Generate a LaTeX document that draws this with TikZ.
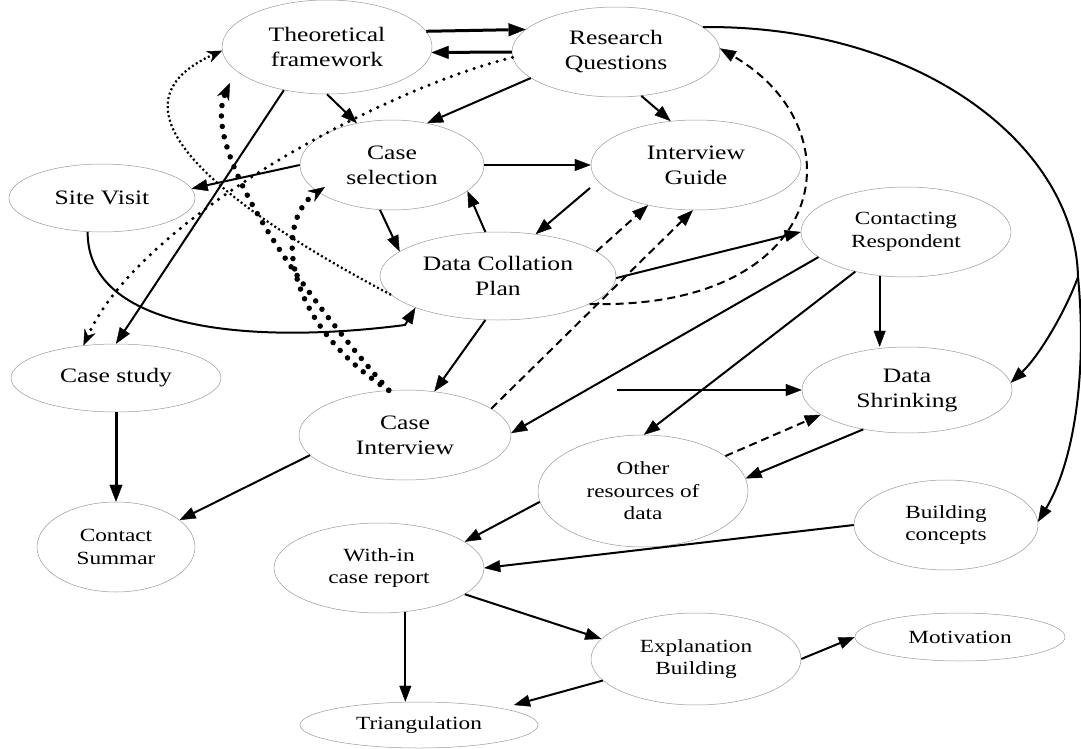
\documentclass[tikz,border=0pt]{standalone}
\usepackage{fontspec}
\setmainfont{Liberation Serif}[FakeStretch=1.25]
\usetikzlibrary{shapes.geometric,arrows.meta,calc}
\tikzset{
 bub/.style={ellipse, draw=gray!80, line width=0.5pt, inner sep=0pt, align=center, font=\fontsize{20.5}{25}\selectfont},
 sbub/.style={bub, font=\fontsize{18.6}{22.5}\selectfont},
 plain/.style={line width=2pt},
 con/.style={line width=2pt, -{Triangle[length=16pt,width=12pt,line width=0.4pt]}},
 thickcon/.style={line width=3pt, -{Triangle[length=17pt,width=13pt,line width=0.4pt]}},
 dashcon/.style={con, dash pattern=on 8pt off 5pt},
 finedot/.style={line width=2.2pt, dash pattern=on 2pt off 2.6pt, -{Stealth[length=15pt,width=12pt,line width=0.4pt]}},
 meddot/.style={line width=3.5pt, line cap=round, dash pattern=on 0pt off 8pt, -{Stealth[length=16pt,width=12pt,line width=0.4pt]}},
 bigdot/.style={line width=5.5pt, line cap=round, dash pattern=on 0pt off 10.5pt, -{Stealth[length=17pt,width=13pt,line width=0.4pt]}}
}
\begin{document}
\begin{tikzpicture}[x=1pt,y=-1pt]
\useasboundingbox (0,0) rectangle (1081,749);
% nodes
\node[bub, minimum width=210pt, minimum height=94pt] (tf) at (327,47) {Theoretical\\framework};
\node[bub, minimum width=208pt, minimum height=90pt] (rq) at (616,52) {Research\\Questions};
\node[bub, minimum width=184pt, minimum height=90pt] (cs) at (392,165) {Case\\selection};
\node[bub, minimum width=210pt, minimum height=90pt] (ig) at (696,165) {Interview\\Guide};
\node[bub, minimum width=186pt, minimum height=68pt] (sv) at (102,198) {Site Visit};
\node[bub, minimum width=236pt, minimum height=88pt] (dcp) at (498,276) {Data Collation\\Plan};
\node[sbub, minimum width=210pt, minimum height=90pt] (cr) at (906,232) {Contacting\\Respondent};
\node[bub, minimum width=210pt, minimum height=68pt] (cst) at (116,378) {Case study};
\node[bub, minimum width=212pt, minimum height=90pt] (ci) at (405,435) {Case\\Interview};
\node[bub, minimum width=210pt, minimum height=86pt] (ds) at (907,390) {Data\\Shrinking};
\node[sbub, minimum width=210pt, minimum height=112pt] (ors) at (643,491) {Other\\resources of\\data};
\node[sbub, minimum width=158pt, minimum height=90pt] (csum) at (116,547) {Contact\\Summar};
\node[sbub, minimum width=210pt, minimum height=90pt] (wi) at (379,568) {With-in\\case report};
\node[sbub, minimum width=184pt, minimum height=90pt] (bc) at (946,525) {Building\\concepts};
\node[sbub, minimum width=210pt, minimum height=92pt] (eb) at (696,659) {Explanation\\Building};
\node[sbub, minimum width=210pt, minimum height=48pt] (mo) at (960,637) {Motivation};
\node[sbub, minimum width=238pt, minimum height=46pt] (tri) at (419,725) {Triangulation};
% free points
\coordinate (svk) at (405,325);
\coordinate (hst) at (617,390);
\coordinate (vx) at (1078,277);
% thick connectors
\draw[thickcon] (tf.9) -- (rq.166);
\draw[thickcon] (rq.west) -- (tf.-3);
\draw[thickcon] (cst.south) -- (csum.north);
% dotted connectors
\draw[meddot] (rq.183) .. controls (380,90) and (140,220) .. (cst.135);
\draw[finedot] (dcp.190) .. controls (240,215) and (90,110) .. (tf.182);
\draw[bigdot] (ci.110) .. controls (300,290) and (200,150) .. ($(tf)+(-97,36)$);
\draw[bigdot] (ci.110) .. controls (280,320) and (275,220) .. ($(cs)+(-67,22)$);
% solid connectors
\draw[con] (tf.225) -- (cst.90);
\draw[con] (tf.270) -- (cs.130);
\draw[con] (rq.197) -- (cs.50);
\draw[con] (rq.-60) -- (ig.120);
\draw[con] (cs.180) -- (sv.6);
\draw[con] (sv.247) .. controls (87,330) and (250,345) .. (svk) -- (dcp.201);
\draw[con] (cs.east) -- (ig.west);
\draw[con] (cs.255) -- (dcp.166);
\draw[con] (dcp.106) -- (cs.-19);
\draw[con] ($(ig)+(-106,23)$) -- (dcp.48);
\draw[con] (dcp.-1) -- (cr.180);
\draw[con] (dcp.254) -- (ci.56);
\draw[con] (cr.196) -- (ci.1);
\draw[con] (cr.218) -- (ors.89);
\draw[con] (cr.239) -- (cr.239 |- ds.north);
\draw[con] (hst) -- (ds.180);
\draw[con] (ds.222) -- (ors.7);
\draw[con] (ors.186) -- (wi.17);
\draw[con] (bc.180) -- (wi.0);
\draw[plain] (rq.16) .. controls (920,25) and (1075,145) .. (vx);
\draw[con] (vx) .. controls (1066,310) and (1040,355) .. (ds.4);
\draw[con] (vx) .. controls (1087,370) and (1075,460) .. (bc.2);
\draw[con] (ci.192) -- (csum.23);
\draw[con] (wi.-17) -- (eb.168);
\draw[con] (wi.-59) -- (wi.-59 |- tri.north);
\draw[con] (eb.193) -- ($(tri)+(95,-20)$);
\draw[con] (eb.east) -- (mo.180);
% dashed connectors
\draw[dashcon] (dcp.14) -- (ig.220);
\draw[dashcon] (ci.17) -- (ig.266);
\draw[dashcon] (dcp.-17) .. controls (830,310) and (860,130) .. (rq.2);
\draw[dashcon] (ors.23) -- (ds.196);
\end{tikzpicture}
\end{document}
